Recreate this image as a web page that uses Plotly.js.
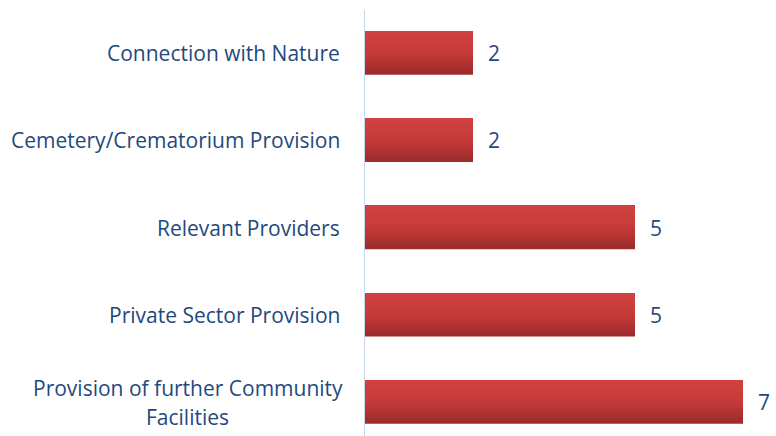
<!DOCTYPE html>
<html>
<head>
<meta charset="utf-8">
<script src="https://cdn.plot.ly/plotly-3.0.1.min.js"></script>
<style>html,body{margin:0;padding:0;background:#fff;}#chart{width:776px;height:436px;}</style>
</head>
<body>
<div id="chart"></div>
<script>
// Data (top-to-bottom order as shown)
const categories = [
  "Connection with Nature",
  "Cemetery/Crematorium Provision",
  "Relevant Providers",
  "Private Sector Provision",
  "Provision of further Community<br>Facilities"
];
const values = [2, 2, 5, 5, 7];

const textColor = "#1f497d";
const fontFam = "'Open Sans', Lato, sans-serif";
const fontSize = 21;

// gradient emulation: stacked overlay layers of the same bars
const N = 14;
const cTop = [209, 65, 63], cMid = [197, 58, 56], cBot = [154, 43, 43];
function colAt(t) {
  let a, b, f;
  if (t < 0.5) { a = cTop; b = cMid; f = t / 0.5; } else { a = cMid; b = cBot; f = (t - 0.5) / 0.5; }
  const c = a.map((v, i) => Math.round(v + (b[i] - v) * f));
  return `rgb(${c[0]},${c[1]},${c[2]})`;
}
const barW = 0.5;
const traces = [];
for (let k = 0; k < N; k++) {
  const frac = (N - k) / N;
  const t = (N - k - 0.5) / N;
  traces.push({
    type: "bar",
    orientation: "h",
    x: values,
    y: categories,
    width: barW * frac,
    offset: -barW / 2,
    marker: { color: colAt(t), line: { width: 0 } },
    hoverinfo: "skip",
    showlegend: false
  });
}

const annotations = [];
categories.forEach((c, i) => {
  const lines = c.split("<br>");
  lines.forEach((ln, j) => {
    const lh = 29;
    const off = (j - (lines.length - 1) / 2) * lh;
    annotations.push({
      xref: "paper", yref: "y", x: 0, y: c,
      text: ln, showarrow: false, xanchor: lines.length > 1 ? "center" : "right", yanchor: "middle",
      xshift: lines.length > 1 ? -177.5 : -23, yshift: -off,
      font: { family: fontFam, size: fontSize, color: textColor }
    });
  });
  annotations.push({
    xref: "x", yref: "y", x: values[i], y: c,
    text: String(values[i]), showarrow: false, xanchor: "left", yanchor: "middle",
    xshift: 13,
    font: { family: fontFam, size: fontSize, color: textColor }
  });
});

const layout = {
  width: 776, height: 436,
  margin: { l: 365, r: 6, t: 10, b: 0 },
  paper_bgcolor: "#ffffff", plot_bgcolor: "#ffffff",
  barmode: "overlay",
  showlegend: false,
  xaxis: { range: [0, 7.5], visible: false, showgrid: false, zeroline: false },
  yaxis: {
    type: "category",
    categoryorder: "array", categoryarray: categories,
    range: [4.389, -0.493],
    showticklabels: false, ticks: "",
    showgrid: false, zeroline: false,
    showline: true, linecolor: "#c5d5ea", linewidth: 1.5
  },
  annotations: annotations
};

Plotly.newPlot("chart", traces, layout, { staticPlot: true, displayModeBar: false });
</script>
</body>
</html>
